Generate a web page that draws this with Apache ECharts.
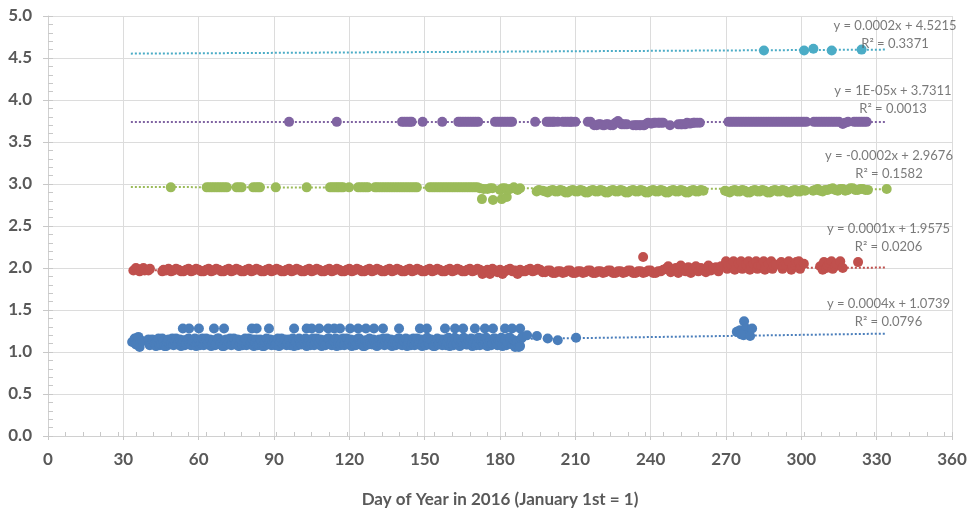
<!DOCTYPE html>
<html>
<head>
<meta charset="utf-8">
<script src="https://cdn.jsdelivr.net/npm/echarts@6/dist/echarts.min.js"></script>
<style>html,body{margin:0;padding:0;background:#fff;}#c{width:972px;height:510px;}</style>
</head>
<body>
<div id="c"></div>
<script>
// ---- data ----
const seriesNames = ['Blue', 'Red', 'Green', 'Purple', 'Cyan'];
const seriesColors = ['#4a7ebb', '#c0504d', '#9bbb59', '#8064a2', '#4bacc6'];

const blueData = [
[33.5,1.12],[34.5,1.16],[35,1.09],[36,1.18],[36.5,1.06],[37.5,1.13],
[40,1.15],[40.5,1.08],[41,1.09],[41.5,1.15],[42,1.14],[42.5,1.10],[43,1.07],[43.5,1.13],[44,1.16],[44.5,1.08],
[45,1.10],[45.5,1.16],[46,1.13],[46.5,1.07],[47,1.07],[47.5,1.12],[48,1.15],[48.5,1.09],[49,1.11],[49.5,1.16],
[50,1.08],[50.5,1.13],[51,1.16],[51.5,1.09],[52,1.12],[52.5,1.15],[53,1.07],[53.5,1.11],[54,1.14],[54.5,1.08],
[55,1.10],[55.5,1.15],[56,1.16],[56.5,1.09],[57,1.08],[57.5,1.13],[58,1.13],[58.5,1.16],[59,1.07],[59.5,1.11],
[60,1.15],[60.5,1.08],[61,1.11],[61.5,1.16],[62,1.08],[62.5,1.12],[63,1.16],[63.5,1.09],[64,1.12],[64.5,1.15],
[65,1.07],[65.5,1.11],[66,1.14],[66.5,1.08],[67,1.09],[67.5,1.16],[68,1.16],[68.5,1.10],[69,1.11],[69.5,1.07],
[70,1.07],[70.5,1.14],[71,1.15],[71.5,1.09],[72,1.12],[72.5,1.16],[73,1.08],[73.5,1.12],[74,1.16],[74.5,1.09],
[75,1.10],[75.5,1.15],[76,1.07],[76.5,1.12],[77,1.14],[77.5,1.08],[78,1.11],[78.5,1.16],[79,1.08],[79.5,1.12],
[80,1.16],[80.5,1.09],[81,1.12],[81.5,1.15],[82,1.07],[82.5,1.11],[83,1.15],[83.5,1.08],[84,1.09],[84.5,1.15],
[85,1.13],[85.5,1.07],[86,1.07],[86.5,1.12],[87,1.16],[87.5,1.09],[88,1.11],[88.5,1.15],[89,1.08],[89.5,1.12],
[90,1.14],[90.5,1.08],[91,1.10],[91.5,1.16],[92,1.07],[92.5,1.12],[93,1.16],[93.5,1.09],[94,1.12],[94.5,1.15],
[95,1.08],[95.5,1.11],[96,1.15],[96.5,1.08],[97,1.10],[97.5,1.16],[98,1.07],[98.5,1.12],[99,1.13],[99.5,1.08],
[100,1.16],[100.5,1.10],[101,1.09],[101.5,1.14],[102,1.12],[102.5,1.16],[103,1.07],[103.5,1.11],[104,1.15],[104.5,1.08],
[105,1.10],[105.5,1.16],[106,1.08],[106.5,1.12],[107,1.16],[107.5,1.09],[108,1.12],[108.5,1.15],[109,1.07],[109.5,1.11],
[110,1.14],[110.5,1.08],[111,1.10],[111.5,1.16],[112,1.16],[112.5,1.09],[113,1.08],[113.5,1.13],[114,1.13],[114.5,1.16],
[115,1.07],[115.5,1.11],[116,1.15],[116.5,1.08],[117,1.11],[117.5,1.16],[118,1.08],[118.5,1.12],[119,1.16],[119.5,1.09],
[120,1.12],[120.5,1.15],[121,1.07],[121.5,1.11],[122,1.14],[122.5,1.08],[123,1.09],[123.5,1.16],[124,1.16],[124.5,1.10],
[125,1.11],[125.5,1.07],[126,1.07],[126.5,1.14],[127,1.13],[127.5,1.09],[128,1.16],[128.5,1.11],[129,1.09],[129.5,1.15],
[130,1.12],[130.5,1.08],[131,1.07],[131.5,1.13],[132,1.15],[132.5,1.09],[133,1.10],[133.5,1.16],[134,1.08],[134.5,1.12],
[135,1.16],[135.5,1.09],[136,1.12],[136.5,1.15],[137,1.07],[137.5,1.11],[138,1.14],[138.5,1.08],[139,1.10],[139.5,1.16],
[140,1.16],[140.5,1.09],[141,1.08],[141.5,1.13],[142,1.13],[142.5,1.16],[143,1.07],[143.5,1.11],[144,1.15],[144.5,1.08],
[145,1.11],[145.5,1.16],[146,1.08],[146.5,1.12],[147,1.16],[147.5,1.09],[148,1.12],[148.5,1.15],[149,1.07],[149.5,1.11],
[150,1.14],[150.5,1.08],[151,1.17],[151.5,1.10],[152,1.09],[152.5,1.15],[153,1.13],[153.5,1.07],[154,1.07],[154.5,1.12],
[155,1.16],[155.5,1.09],[156,1.11],[156.5,1.15],[157,1.08],[157.5,1.12],[158,1.15],[158.5,1.08],[159,1.12],[159.5,1.17],
[160,1.07],[160.5,1.11],[161,1.14],[161.5,1.08],[162,1.17],[162.5,1.10],[163,1.10],[163.5,1.15],[164,1.07],[164.5,1.12],
[165,1.13],[165.5,1.17],[166,1.16],[166.5,1.09],[167,1.09],[167.5,1.14],[168,1.12],[168.5,1.16],[169,1.07],[169.5,1.11],
[170,1.15],[170.5,1.08],[171,1.11],[171.5,1.17],[172,1.08],[172.5,1.13],[173,1.16],[173.5,1.09],[174,1.12],[174.5,1.17],
[175,1.07],[175.5,1.11],[176,1.14],[176.5,1.08],[177,1.10],[177.5,1.16],[178,1.16],[178.5,1.09],[179,1.08],[179.5,1.13],
[180,1.13],[180.5,1.17],[181,1.07],[181.5,1.11],[182,1.15],[182.5,1.08],[183,1.11],[183.5,1.17],[184,1.17],[184.5,1.10],
[185,1.09],[185.5,1.14],[186,1.06],[186.5,1.12],[187,1.13],[187.5,1.06],[188,1.07],[188.5,1.16],[189,1.18],
[190.8,1.20],[194.7,1.19],[199,1.16],[203,1.14],[210.3,1.17],
[53.7,1.28],[56.2,1.28],[60.1,1.28],[66.1,1.28],[70.1,1.28],[81.2,1.28],[83.1,1.28],[88,1.28],[98,1.28],
[103,1.28],[105,1.28],[108,1.28],[111.6,1.28],[114,1.28],[116.3,1.28],[120.3,1.28],[123.5,1.28],[126.6,1.28],
[129.8,1.28],[133.4,1.28],[139.8,1.28],[148.1,1.28],[150.9,1.28],[158.1,1.28],[162.1,1.28],[165.3,1.28],
[170,1.28],[174,1.28],[177.2,1.28],[182,1.28],[184.8,1.28],[188,1.28],
[274.3,1.24],[275.6,1.26],[277.2,1.365],[278,1.28],[280.4,1.28],[277,1.20],[279.6,1.19],[276,1.21]
];

const redData = [
[34,1.97],[35,2.00],[35.5,1.99],[36.5,1.96],[37,1.98],[38,2.00],[38.5,1.97],[40,1.97],[40.6,1.99],
[45.5,1.96],[46,1.98],[47,1.97],[48,1.99],[49,1.96],[50,1.97],[51,1.99],[52,1.98],[53,1.96],[54,1.96],[55,1.98],
[56,1.99],[57,1.96],[58,1.97],[59,1.99],[60,1.98],[61,1.96],[62,1.96],[63,1.98],[64,1.99],[65,1.96],
[66,1.97],[67,1.99],[68,1.98],[69,1.96],[70,1.96],[71,1.98],[72,1.99],[73,1.96],[74,1.97],[75,1.99],
[76,1.98],[77,1.96],[78,1.96],[79,1.98],[80,1.99],[81,1.96],[82,1.97],[83,1.99],[84,1.98],[85,1.96],
[86,1.96],[87,1.98],[88,1.99],[89,1.96],[90,1.97],[91,1.99],[92,1.98],[93,1.96],[94,1.96],[95,1.98],
[96,1.99],[97,1.96],[98,1.97],[99,1.99],[100,1.98],[101,1.96],[102,1.96],[103,1.98],[104,1.99],[105,1.96],
[106,1.97],[107,1.99],[108,1.98],[109,1.96],[110,1.96],[111,1.98],[112,1.99],[113,1.96],[114,1.97],[115,1.99],
[116,1.98],[117,1.96],[118,1.96],[119,1.98],[120,1.99],[121,1.96],[122,1.97],[123,1.99],[124,1.98],[125,1.96],
[126,1.96],[127,1.98],[128,1.99],[129,1.96],[130,1.97],[131,1.99],[132,1.98],[133,1.96],[134,1.96],[135,1.98],
[136,1.99],[137,1.96],[138,1.97],[139,1.99],[140,1.98],[141,1.96],[142,1.96],[143,1.98],[144,1.99],[145,1.96],
[146,1.97],[147,1.99],[148,1.98],[149,1.96],[150,1.96],[151,1.98],[152,1.99],[153,1.96],[154,1.97],[155,1.99],
[156,1.98],[157,1.96],[158,1.96],[159,1.98],[160,1.99],[161,1.96],[162,1.97],[163,1.99],[164,1.98],[165,1.96],
[166,1.96],[167,1.98],[168,1.99],[169,1.96],[170,1.97],[171,1.99],[172,1.98],[173,1.93],[174,1.96],[175,1.98],
[176,1.93],[177,1.99],[178,1.97],[179,1.95],[180,1.98],[181,1.93],[182,1.96],[183,1.98],[184,1.99],[185,1.96],
[186,1.97],[187,1.93],[188,1.98],[189,1.96],[190,1.96],[191,1.98],[192,1.99],[193,1.96],[194,1.97],[195,1.99],
[196,1.98],[197,1.95],[198,1.95],[199,1.97],[200,1.97],[201,1.94],[202,1.94],[203,1.96],[204,1.96],[205,1.94],
[206,1.95],[207,1.97],[208,1.97],[209,1.94],[210,1.94],[211,1.96],[212,1.96],[213,1.94],[214,1.95],[215,1.97],
[216,1.97],[217,1.94],[218,1.94],[219,1.96],[220,1.96],[221,1.94],[222,1.95],[223,1.97],[224,1.97],[225,1.94],
[226,1.94],[227,1.96],[228,1.96],[229,1.94],[230,1.95],[231,1.97],[232,1.97],[233,1.94],[234,1.94],[235,1.96],
[236,1.96],[237,1.94],[238,1.95],[239,1.97],[240,1.97],[241,1.94],[242,1.94],[243,1.96],[244,1.96],[245,1.98],
[237,2.13],
[246,1.99],[247,2.02],[248,1.95],[249,1.98],[250,2.00],[251,1.94],[252,2.03],[253,1.97],[254,1.96],[255,2.01],
[256,1.94],[257,1.99],[258,2.02],[259,1.96],[260,2.00],[261,1.97],[262,1.95],[263,2.03],[264,1.97],[265,2.00],
[266,2.01],[267,1.96],[268,2.02],
[270,2.08],[270.5,1.99],[271,2.03],[272,2.04],[273,2.08],[273.5,1.98],[274,2.02],[275,2.05],[276,2.08],[276.5,1.99],
[277,2.03],[278,2.04],[279,2.08],[279.5,1.98],[280,2.02],[281,2.05],[282,2.08],[282.5,1.99],[283,2.03],[284,2.03],
[285,2.08],[285.5,1.98],[286,2.02],[287,2.05],[288,2.08],[288.5,1.99],[289,2.03],[290,2.04],
[292,2.07],[292.5,1.99],[293,2.03],[294,2.03],[295,2.08],[296,1.98],[296.5,2.02],[297.5,2.04],[298,2.07],[299,2.08],
[299.5,1.99],[300,2.03],[301,2.05],
[307.5,2.02],[308.5,1.98],[309,2.07],[310,2.00],[310.5,2.03],[311,2.06],[312,2.08],[312.5,1.99],[313.5,2.02],[314,2.05],
[315.5,2.08],[316.5,2.00],
[322.6,2.07]
];

const greenData = [
[48.9,2.96],[63.2,2.96],[64.2,2.96],[65.2,2.96],[66.2,2.96],[67.2,2.96],[68.2,2.96],[69.2,2.96],[70.2,2.96],[71.2,2.96],
[75.1,2.96],[76.1,2.96],[77.1,2.96],
[81.7,2.96],[82.7,2.96],[83.6,2.96],[84.4,2.96],[90.7,2.96],[103,2.96],
[112.3,2.96],[113.2,2.96],[114.1,2.96],[115,2.96],[115.8,2.96],[116.7,2.96],[117.5,2.96],
[119.9,2.96],[123.5,2.96],[124.5,2.96],[125.5,2.96],[126.5,2.96],[127.4,2.96],
[130.2,2.96],[131,2.96],[132,2.96],[133,2.96],[134,2.96],[135,2.96],[136,2.96],[137,2.96],[138,2.96],[139,2.96],
[140,2.96],[141,2.96],[142,2.96],[143,2.96],[144,2.96],[145,2.96],[146,2.96],[146.9,2.96],
[152,2.96],[153,2.96],[154,2.96],[155,2.96],[156,2.96],[157,2.96],[158,2.96],[159,2.96],[160,2.96],[161,2.96],
[162,2.96],[163,2.96],[164,2.96],[165,2.96],[166,2.96],[167,2.96],[168,2.96],[169,2.96],[170,2.96],[171,2.96],
[172,2.95],[173.5,2.94],[175,2.94],[176,2.95],[177,2.95],
[172.8,2.82],[177.2,2.81],[180.7,2.82],[182.7,2.845],
[180,2.93],[181,2.95],[182,2.95],[183,2.93],[184,2.94],[185.5,2.96],[186.5,2.94],[187,2.93],[188,2.95],
[194.6,2.91],[195.5,2.93],
[197,2.92],[198,2.91],[199,2.90],[200,2.92],[201,2.93],[202,2.91],[203,2.91],[204,2.93],[205,2.92],[206,2.90],
[207,2.90],[208,2.92],[209,2.93],[210,2.91],[211,2.91],[212,2.93],[213,2.92],[214,2.90],[215,2.90],[216,2.92],
[217,2.93],[218,2.91],[219,2.91],[220,2.93],[221,2.92],[222,2.90],[223,2.90],[224,2.92],[225,2.93],[226,2.91],
[227,2.91],[228,2.93],[229,2.92],[230,2.90],[231,2.90],[232,2.92],[233,2.93],[234,2.91],[235,2.91],[236,2.93],
[237,2.92],[238,2.90],[239,2.90],[240,2.92],[241,2.93],[242,2.91],[243,2.91],[244,2.93],[245,2.92],[246,2.90],
[247,2.90],[248,2.92],[249,2.93],[250,2.91],[251,2.91],[252,2.93],[253,2.92],[254,2.90],[255,2.90],[256,2.92],
[257,2.93],[258,2.91],[259,2.91],[260,2.93],[261,2.92],
[269.6,2.92],[270.5,2.91],[271.5,2.90],[272.5,2.92],[273.5,2.93],[274.5,2.91],[275.5,2.91],[276.5,2.93],[277.5,2.92],
[278.5,2.90],[279.5,2.90],[280.5,2.92],[281.5,2.93],[282.5,2.91],[283.5,2.91],[284.5,2.93],[285.5,2.92],[286.5,2.90],
[287.5,2.90],[288.5,2.92],[289.5,2.93],[290.5,2.91],[291.5,2.91],[292.5,2.93],[293.5,2.92],[294.5,2.90],[295.5,2.90],
[296.5,2.92],[297.5,2.93],[298.5,2.91],[299.5,2.91],[300.5,2.93],[301.5,2.92],
[304.7,2.92],[305.5,2.93],[306.5,2.94],[307.5,2.92],[308.5,2.91],[309.5,2.93],[310.5,2.93],[311.5,2.94],[312.5,2.95],
[313.5,2.93],[314.5,2.92],[315.5,2.94],[316.5,2.94],[317.5,2.92],[318.5,2.93],[319.5,2.95],[320.5,2.95],[321.5,2.93],
[322.5,2.93],[323.5,2.94],[324.5,2.94],[325.5,2.93],[326.5,2.93],
[334,2.94]
];

const purpleData = [
[96,3.74],[115,3.74],[141,3.74],[142,3.74],[143,3.74],[144,3.74],[144.8,3.74],[149.2,3.74],[157,3.74],
[163.4,3.74],[164.3,3.74],[165.3,3.74],[166.3,3.74],[167.3,3.74],[168.3,3.74],[169.3,3.74],[170.3,3.74],[171.3,3.74],
[178,3.74],[179,3.74],[180,3.74],[181,3.74],[182,3.74],[183,3.74],[184,3.74],[184.8,3.74],[194,3.74],
[198.6,3.74],[199.4,3.74],[200.1,3.74],[201,3.74],[201.6,3.74],[203,3.74],[205,3.74],[206,3.74],[207,3.74],
[208,3.74],[208.6,3.74],[210,3.74],
[215,3.74],[216,3.74],[217.5,3.70],[218.5,3.70],[219.3,3.71],[220,3.71],[221,3.70],[221.5,3.70],[222.3,3.71],[223,3.71],
[224,3.70],[225,3.70],[226,3.73],[227,3.75],[228,3.72],[228.5,3.71],[229.5,3.71],[230.5,3.71],[233,3.70],[234,3.70],
[234.5,3.70],[235.5,3.70],[236,3.70],[237,3.70],[237.5,3.70],[238.5,3.72],[239,3.73],[240,3.72],[240.5,3.72],[241.3,3.73],
[242,3.73],[243,3.73],[243.5,3.73],[244.3,3.73],[245,3.73],[247.7,3.70],[251,3.71],[252,3.71],[252.5,3.71],[253.7,3.71],
[254.5,3.73],[255.3,3.72],[256,3.72],[257,3.73],[257.5,3.73],[258.5,3.73],[259.6,3.73],
[271,3.74],[272,3.74],[273,3.74],[274,3.74],[275,3.74],[276,3.74],[277,3.74],[278,3.74],[279,3.74],[280,3.74],
[281,3.74],[282,3.74],[283,3.74],[284,3.74],[285,3.74],[286,3.74],[287,3.74],[288,3.74],[289,3.74],[290,3.74],
[291,3.74],[292,3.74],[293,3.74],[294,3.74],[295,3.74],[296,3.74],[297,3.74],[298,3.74],[299,3.74],[300,3.74],
[301,3.74],[302,3.74],
[305,3.74],[306,3.74],[307,3.74],[308,3.74],[309,3.74],[310,3.74],[311,3.74],[312,3.74],[313,3.74],[314,3.74],
[315,3.74],[316.5,3.715],[317.5,3.73],[318.6,3.74],
[321,3.74],[322,3.74],[323,3.74],[324,3.74],[325,3.74],[326,3.74]
];

const cyanData = [[285.1,4.59],[301.1,4.59],[304.8,4.61],[312.1,4.59],[324,4.60]];

// trendline end points
const trendLines = [
  [[33, 1.087], [334, 1.219]],
  [[33, 1.973], [334, 2.005]],
  [[33, 2.965], [334, 2.938]],
  [[33, 3.738], [334, 3.738]],
  [[33, 4.552], [334, 4.600]]
];
const trendEquations = ['y = 0.0004x + 1.0739', 'y = 0.0001x + 1.9575', 'y = -0.0002x + 2.9676', 'y = 1E-05x + 3.7311', 'y = 0.0002x + 4.5215'];
const trendR2 = ['R² = 0.0796', 'R² = 0.0206', 'R² = 0.1582', 'R² = 0.0013', 'R² = 0.3371'];
const labelAnchors = [[334.7, 1.47], [334.7, 2.355], [334.9, 3.225], [336.5, 3.998], [337.3, 4.772]];

const xMin = 0, xMax = 360, xStep = 30, xMinorStep = 7;
const yMin = 0, yMax = 5, yStep = 0.5, yMinorStep = 0.1;
const xTitle = 'Day of Year in 2016 (January 1st = 1)';

// ---- chart ----
const allData = [blueData, redData, greenData, purpleData, cyanData];
const FONT = 'Lato';
const series = [];
trendLines.forEach((seg, i) => {
  series.push({
    type: 'line', data: seg, symbol: 'none', silent: true, z: 1,
    lineStyle: { color: seriesColors[i], width: 2, type: [2, 2] }
  });
});
allData.forEach((d, i) => {
  series.push({
    type: 'scatter', name: seriesNames[i], data: d, symbol: 'circle', symbolSize: 10, z: 2,
    itemStyle: { color: seriesColors[i], opacity: 1 }
  });
});
series.push({
  type: 'scatter', symbolSize: 0, z: 3, silent: true,
  data: labelAnchors.map((p, i) => ({ value: p, eq: trendEquations[i], r2: trendR2[i] })),
  label: {
    show: true, position: 'inside',
    formatter: p => p.data.eq + '\n' + p.data.r2,
    fontFamily: FONT, fontSize: 13, color: '#595959', lineHeight: 18, align: 'center'
  }
});

const chart = echarts.init(document.getElementById('c'), null, { renderer: 'canvas' });
chart.setOption({
  animation: false,
  backgroundColor: '#fff',
  grid: { left: 48, right: 20, top: 16, bottom: 74, containLabel: false, outerBoundsMode: 'none' },
  xAxis: [{
    type: 'value', min: xMin, max: xMax, interval: xStep, position: 'bottom',
    axisLine: { show: true, lineStyle: { color: '#d0d0d0', width: 1 } },
    axisTick: { show: true, inside: false, length: 4, lineStyle: { color: '#c8c8c8' } },
    splitLine: { show: true, lineStyle: { color: '#dcdcdc', width: 1 } },
    axisLabel: { fontFamily: FONT, fontSize: 17, fontWeight: 'bold', color: '#595959', margin: 15 },
    name: xTitle, nameLocation: 'middle', nameGap: 55,
    nameTextStyle: { fontFamily: FONT, fontSize: 17, fontWeight: 'bold', color: '#595959' }
  }, {
    type: 'value', min: xMin, max: xMax, interval: xMinorStep, position: 'bottom',
    axisLine: { show: false },
    axisTick: { show: true, inside: true, length: 4, lineStyle: { color: '#c8c8c8' } },
    splitLine: { show: false }, axisLabel: { show: false }
  }],
  yAxis: [{
    type: 'value', min: yMin, max: yMax, interval: yStep, position: 'left',
    axisLine: { show: true, lineStyle: { color: '#d0d0d0', width: 1 } },
    axisTick: { show: true, inside: false, length: 5, lineStyle: { color: '#c8c8c8' } },
    splitLine: { show: true, lineStyle: { color: '#dcdcdc', width: 1 } },
    axisLabel: { fontFamily: FONT, fontSize: 17, fontWeight: 'bold', color: '#595959', margin: 16,
      formatter: v => v.toFixed(1) }
  }, {
    type: 'value', min: yMin, max: yMax, interval: yMinorStep, position: 'left',
    axisLine: { show: false },
    axisTick: { show: true, inside: true, length: 5, lineStyle: { color: '#c8c8c8' } },
    splitLine: { show: false }, axisLabel: { show: false }
  }],
  series: series
});
</script>
</body>
</html>
